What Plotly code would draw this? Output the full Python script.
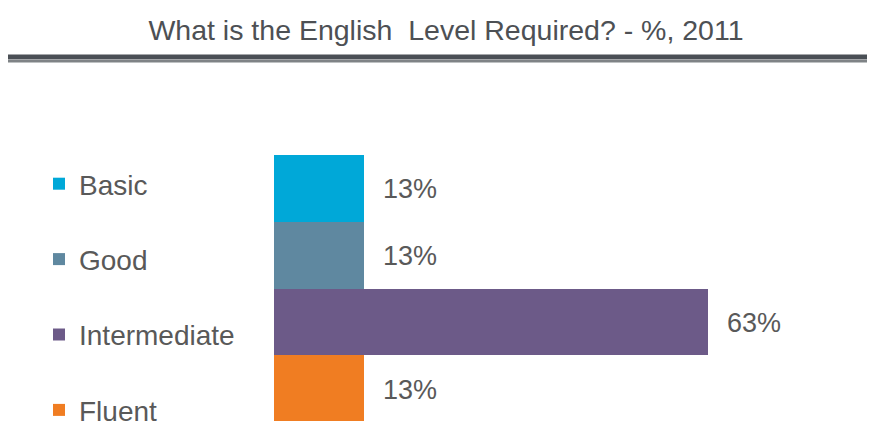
import plotly.graph_objects as go

# data
levels = ["Basic", "Good", "Intermediate", "Fluent"]
shares = [13, 13, 63, 13]
bar_colors = ["#00A8D8", "#5F88A0", "#6C5A88", "#F07D22"]

title = "What is the English  Level Required? - %, 2011"
font = "Liberation Sans, Arial, sans-serif"
grey = "#595959"

# page has an 8px body margin, so figure px = window px - 8
L, T, PH, PW = 266, 147, 267, 551

fig = go.Figure()
for lvl, v, c in zip(levels, shares, bar_colors):
    fig.add_trace(go.Bar(
        x=[v], y=[lvl], orientation="h", name=lvl,
        marker=dict(color=c, line=dict(width=0)),
        legendgroup=lvl, hoverinfo="skip",
    ))
    fig.add_annotation(
        x=v, y=lvl, text=f"{v}%", showarrow=False,
        xanchor="left", xshift=17, yshift=-1,
        font=dict(family=font, size=27, color=grey),
    )

# underline of the title (two tones)
def py(y):
    return (T + PH - y) / PH

fig.add_shape(type="line", xref="paper", yref="paper",
              x0=-0.488, x1=1.1, y0=py(49), y1=py(49),
              line=dict(color="#4A4F55", width=5))
fig.add_shape(type="line", xref="paper", yref="paper",
              x0=-0.488, x1=1.1, y0=py(53.3), y1=py(53.3),
              line=dict(color="#7F8386", width=2.5))

fig.update_layout(
    width=875, height=421,
    margin=dict(l=L, r=875 - L - PW, t=T, b=421 - T - PH, autoexpand=False),
    paper_bgcolor="white", plot_bgcolor="white",
    barmode="overlay", bargap=0,
    title=dict(text=title, x=(438 - L) / PW, xref="paper", xanchor="center",
               y=1 - 22 / 421, yanchor="middle",
               font=dict(family=font, size=28.5, color="#4D5054")),
    xaxis=dict(range=[0, 80], visible=False, fixedrange=True),
    yaxis=dict(categoryorder="array", categoryarray=levels, autorange="reversed",
               visible=False, fixedrange=True),
    showlegend=True,
    legend=dict(x=(31 - L) / PW, xanchor="left", y=py(151), yanchor="top",
                xref="paper", yref="paper", tracegroupgap=36,
                traceorder="grouped", maxheight=600,
                font=dict(family=font, size=28, color=grey),
                bgcolor="rgba(0,0,0,0)"),
)

fig.write_html("out.html")
